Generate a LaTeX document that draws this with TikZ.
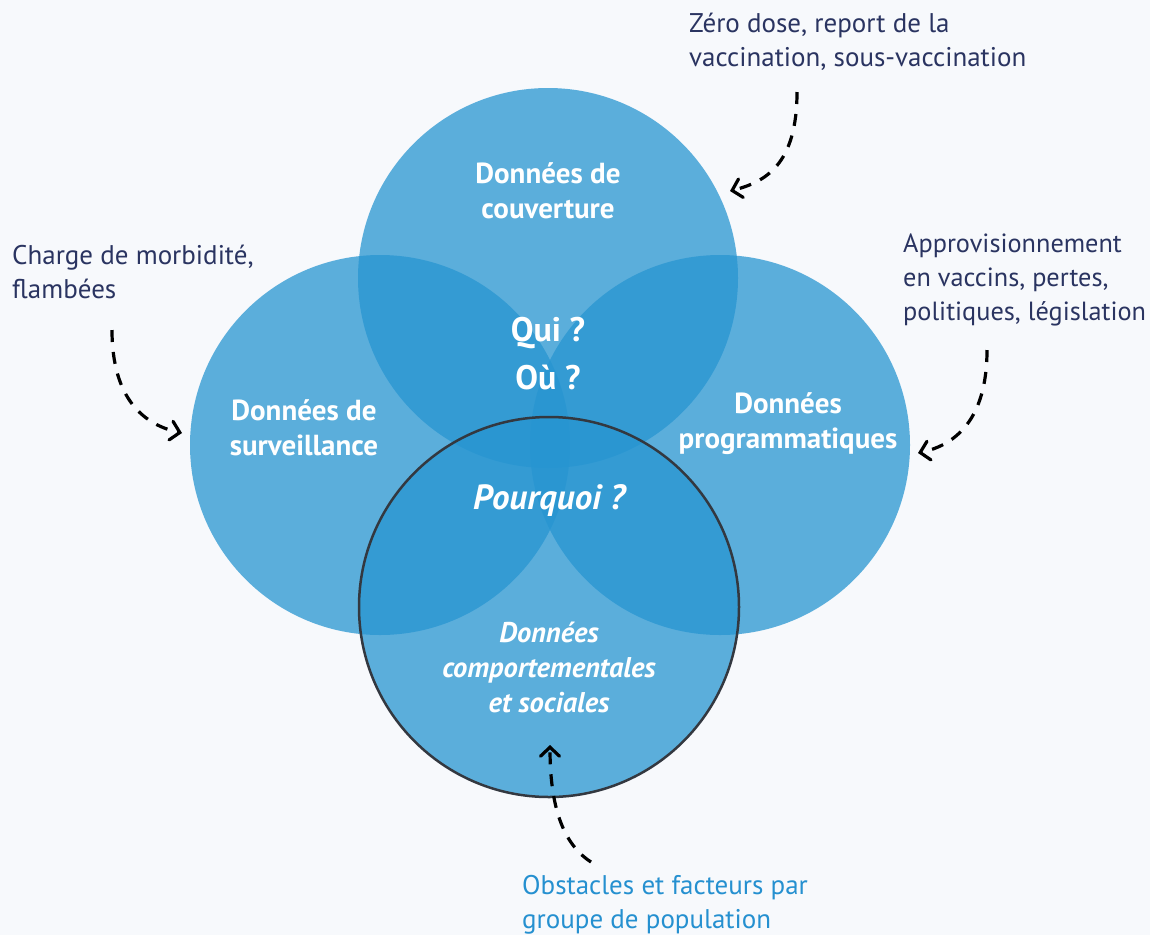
\documentclass[tikz,border=0pt]{standalone}
\usepackage{fontspec}
\setmainfont{PT Sans}
\usetikzlibrary{arrows.meta}
\definecolor{bgc}{HTML}{F7F9FC}
\definecolor{circc}{HTML}{2795D1}
\definecolor{navy}{HTML}{2A3461}
\definecolor{lblue}{HTML}{2590D0}
\definecolor{rim}{HTML}{333840}
\tikzset{
  venn/.style={fill=circc, fill opacity=0.75, draw=none},
  inlabel/.style={text=white, font=\fontsize{29}{35}\selectfont\bfseries, align=center, inner sep=0pt},
  inital/.style={text=white, font=\fontsize{28.5}{35}\selectfont\bfseries\itshape, align=center, inner sep=0pt},
  outlabel/.style={text=navy, font=\fontsize{27}{34}\selectfont, align=left, inner sep=0pt},
  darrow/.style={draw=black, line width=3.2pt, dash pattern=on 12pt off 10pt, -{Straight Barb[length=9pt,width=19pt,line cap=round]}}
}
\begin{document}
\begin{tikzpicture}[x=1pt,y=-1pt]
\fill[bgc] (0,0) rectangle (1150,935);
\useasboundingbox (0,0) rectangle (1150,935);
% circles
\fill[venn] (548,278) circle (190);
\fill[venn] (380,445) circle (190);
\fill[venn] (720,445) circle (190);
\fill[venn] (549,607) circle (190);
\draw[rim, line width=2.5pt] (549,607) circle (190);
% inner labels
\node[inlabel] (cov) at (548,191) {Données de\\couverture};
\node[inlabel] (sur) at (304,428) {Données de\\surveillance};
\node[inlabel] (prog) at (788,424) {Données\\programmatiques};
\node[inlabel, font=\fontsize{34}{48}\selectfont\bfseries] (qui) at (548,354) {Qui ?\\Où ?};
\node[inital, font=\fontsize{35}{36}\selectfont\bfseries\itshape] (pq) at (549,500) {Pourquoi ?};
\node[inital] (comp) at (549,667) {Données\\comportementales\\et sociales};
% outer labels
\node[outlabel, anchor=west] (zero) at (689,42) {Zéro dose, report de la\\vaccination, sous-vaccination};
\node[outlabel, anchor=west] (charge) at (12,272) {Charge de morbidité,\\flambées};
\node[outlabel, anchor=west, font=\fontsize{26.3}{34}\selectfont] (appro) at (903,280) {Approvisionnement\\en vaccins, pertes,\\politiques, législation};
\node[outlabel, anchor=west, text=lblue] (obst) at (522,905) {Obstacles et facteurs par\\groupe de population};
% arrow endpoints
\coordinate (z0) at (797,92);
\coordinate (z1) at (730,191);
\coordinate (c0) at (112,330);
\coordinate (c1) at (182,433);
\coordinate (a0) at (987,350);
\coordinate (a1) at (918,453);
\coordinate (o0) at (591,862);
\coordinate (o1) at (550,745);
\draw[darrow] (z0) .. controls (797,165) and (765,182) .. (z1);
\draw[darrow] (c0) .. controls (112,400) and (145,425) .. (c1);
\draw[darrow] (a0) .. controls (987,420) and (955,445) .. (a1);
\draw[darrow] (o0) .. controls (560,842) and (550,800) .. (o1);
\end{tikzpicture}
\end{document}
